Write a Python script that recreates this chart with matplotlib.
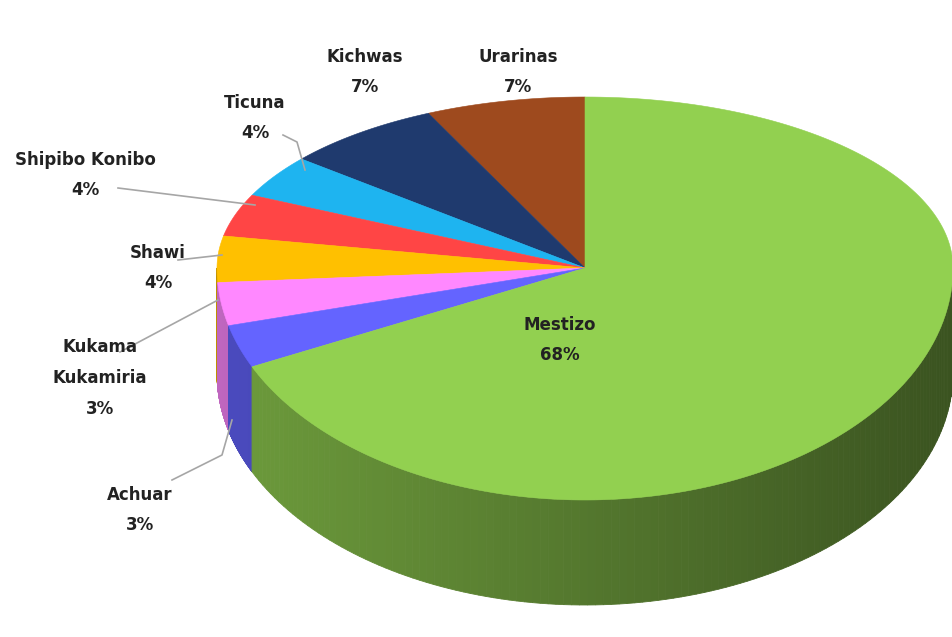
import numpy as np
import matplotlib.pyplot as plt
from matplotlib.colors import to_rgb

labels = ["Urarinas", "Kichwas", "Ticuna", "Shipibo Konibo", "Shawi", "Kukama\nKukamiria", "Achuar", "Mestizo"]
values = [7, 7, 4, 4, 4, 3, 3, 68]
colors = ["#9E4A1E", "#1F3A6E", "#1EB4F0", "#FF4545", "#FFC000", "#FF88FF", "#6464FF", "#92D050"]

fig = plt.figure(figsize=(9.53, 6.37), dpi=100)
ax = fig.add_axes([0, 0, 1, 1])
ax.set_xlim(0, 953); ax.set_ylim(637, 0); ax.axis("off")

cx, cy, rx, ryt, ryb, depth = 585, 268, 368, 171, 232, 105

def pt(t):
    s = np.sin(t)
    return cx + rx*np.cos(t), cy - (ryt if s > 0 else ryb)*s

tot = sum(values)
start = np.pi/2
bounds = []
a = start
for v in values:
    b = a + 2*np.pi*v/tot
    bounds.append((a, b)); a = b

# sides
for (a, b), c in zip(bounds, colors):
    ts = np.linspace(a, b, 200)
    base = np.array(to_rgb(c))
    for t0, t1 in zip(ts[:-1], ts[1:]):
        if np.sin((t0+t1)/2) >= 0:
            continue
        p0, p1 = pt(t0), pt(t1)
        shade = 0.75 - 0.35*(np.cos((t0+t1)/2)+1)/2
        col = np.clip(base*shade, 0, 1)
        ax.fill([p0[0], p1[0], p1[0], p0[0]], [p0[1], p1[1], p1[1]+depth, p0[1]+depth],
                color=col, lw=0.6, ec=col)
# tops
for (a, b), c in zip(bounds, colors):
    ts = np.linspace(a, b, 200)
    xs = [cx] + [pt(t)[0] for t in ts]
    ys = [cy] + [pt(t)[1] for t in ts]
    ax.fill(xs, ys, color=c, lw=0.4, ec=c)

fs = 12
txt = dict(ha="center", va="center", fontsize=fs, fontweight="bold", color="#222222", linespacing=1.9)
pos = {"Urarinas": (518, 72), "Kichwas": (365, 72), "Ticuna": (255, 118), "Shipibo Konibo": (85, 175),
       "Shawi": (158, 268), "Kukama\nKukamiria": (100, 378), "Achuar": (140, 510), "Mestizo": (560, 340)}
for l, v in zip(labels, values):
    ax.text(*pos[l], f"{l}\n{v}%", **txt)

lc = "#A6A6A6"
for seg in [[(283, 135), (297, 142), (305, 170)], [(118, 188), (255, 205)], [(178, 260), (222, 255)],
            [(120, 352), (218, 300)], [(172, 480), (222, 455), (232, 420)]]:
    x, y = zip(*seg)
    ax.plot(x, y, color=lc, lw=1.2)

fig.savefig("out.png", dpi=100)
